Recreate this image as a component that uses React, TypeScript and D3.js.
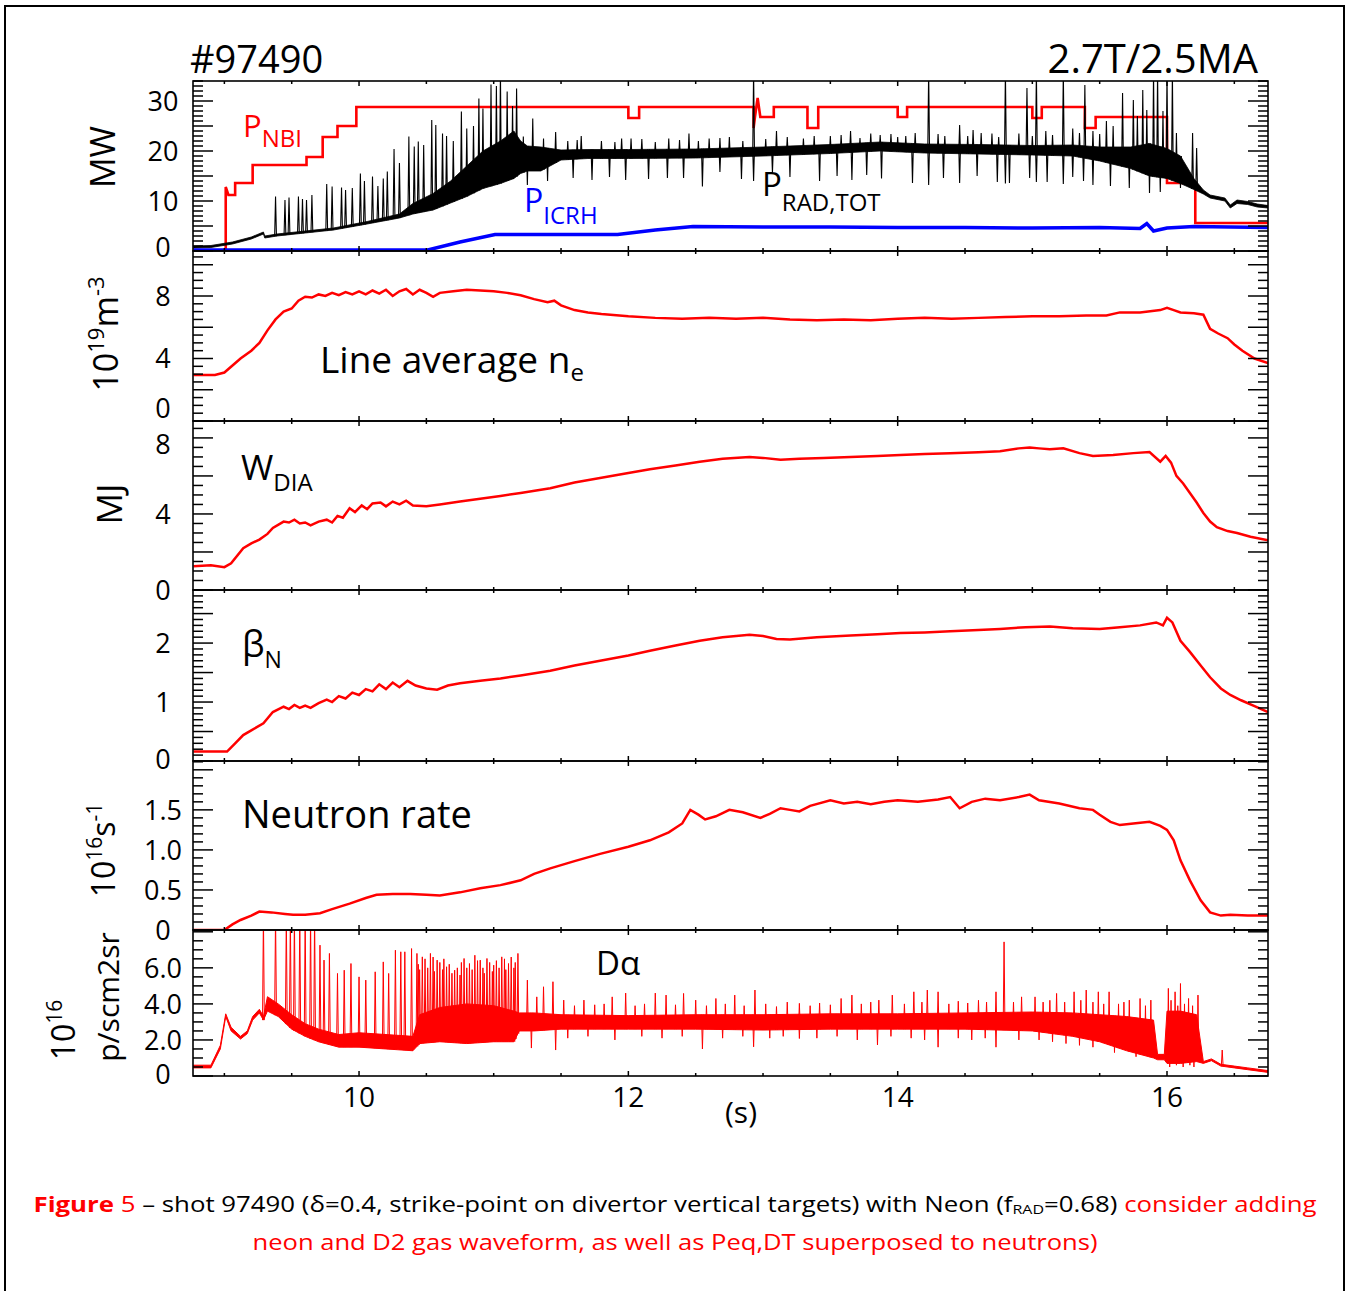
import React from 'react';
import * as d3 from 'd3';

// ---------------- DATA ----------------
const T_DOMAIN: [number, number] = [8.767, 16.75];
const xTickLabels = [10, 12, 14, 16];

// Panel 1: MW
const pnbi: [number, number][] = [
  [8.77, 0], [9.01, 0], [9.01, 12.8], [9.03, 11.2], [9.08, 11.2], [9.08, 13.6], [9.21, 13.6], [9.21, 17.2],
  [9.61, 17.2], [9.61, 18.8], [9.73, 18.8], [9.73, 22.8], [9.84, 22.8], [9.84, 25], [9.98, 25], [9.98, 28.8],
  [12.0, 28.8], [12.0, 26.6], [12.08, 26.6], [12.08, 28.8], [12.93, 28.8], [12.93, 24.6], [12.94, 26.8],
  [12.96, 30.6], [12.98, 26.8], [13.08, 26.8], [13.08, 28.8], [13.33, 28.8], [13.33, 24.6], [13.41, 24.6],
  [13.41, 28.8], [14.0, 28.8], [14.0, 26.8], [14.07, 26.8], [14.07, 28.8], [15.0, 28.8], [15.0, 26.6],
  [15.07, 26.6], [15.07, 28.8], [15.39, 28.8], [15.39, 24.6], [15.47, 24.6], [15.47, 26.8], [16.0, 26.8],
  [16.0, 13.6], [16.21, 13.6], [16.21, 5.6], [16.75, 5.6],
];
const picrh: [number, number][] = [
  [8.77, 0.2], [10.51, 0.2], [10.75, 1.8], [11.01, 3.3], [11.5, 3.3], [11.92, 3.3], [12.2, 4.2], [12.48, 4.9],
  [13.0, 4.8], [13.5, 4.8], [14.0, 4.7], [14.5, 4.7], [15.0, 4.6], [15.5, 4.7], [15.8, 4.5], [15.85, 5.5],
  [15.9, 4.0], [16.0, 4.6], [16.2, 4.9], [16.75, 4.7],
];
// P_RAD,TOT envelope [t, low, high]
const pradEnv: [number, number, number][] = [
  [8.77, 0.6, 1.0], [8.9, 0.7, 1.1], [9.06, 1.4, 1.8], [9.2, 2.4, 2.8], [9.29, 3.4, 3.8], [9.3, 2.6, 3.0],
  [9.39, 3.0, 3.4], [9.6, 3.6, 4.0], [9.81, 4.2, 4.6], [10.06, 5.4, 5.9], [10.3, 6.6, 7.4], [10.4, 7.4, 9.5],
  [10.55, 8.2, 11.5], [10.68, 9.6, 14], [10.8, 10.9, 17], [10.92, 12.5, 20], [11.05, 13.5, 22], [11.15, 14.5, 24],
  [11.2, 15.5, 22], [11.25, 16, 21], [11.35, 16, 20.8], [11.5, 18.2, 20.2], [11.7, 18.5, 20.3], [12.0, 18.5, 20.3],
  [12.5, 18.6, 20.4], [13.0, 19.0, 20.8], [13.5, 19.5, 21.3], [13.87, 20.0, 21.8], [14.2, 19.6, 21.4],
  [14.6, 19.4, 21.3], [15.0, 19.2, 21.1], [15.3, 19.0, 21.2], [15.5, 18.0, 20.8], [15.73, 16.5, 20.8],
  [15.87, 15.0, 21.5], [16.0, 14.5, 20.5], [16.1, 13.5, 19], [16.2, 12.3, 14.5], [16.27, 11.4, 12.2],
  [16.32, 10.6, 11.2], [16.43, 10, 10.6], [16.47, 8.6, 9.2], [16.52, 9.5, 10.2], [16.6, 9.3, 9.9],
  [16.67, 8.8, 9.4], [16.75, 8.6, 9.1],
];
const pradUp: [number, number][] = [
  [9.38, 10.9], [9.45, 10.2], [9.48, 10.7], [9.55, 10.9], [9.58, 10.4], [9.61, 10.2], [9.65, 11.2],
  [9.76, 13.4], [9.8, 12.9], [9.87, 12.7], [9.9, 12.2], [9.95, 12.6], [10.01, 15.5], [10.04, 14.0],
  [10.1, 14.9], [10.14, 13.0], [10.18, 14.5], [10.21, 15.9], [10.26, 20.4], [10.3, 17.6], [10.37, 22.9],
  [10.41, 20.9], [10.44, 21.9], [10.48, 21.2], [10.54, 26.2], [10.57, 25.2], [10.62, 23.5], [10.65, 23.0],
  [10.7, 22.0], [10.76, 27.9], [10.8, 24.5], [10.85, 25], [10.89, 30.5], [10.92, 28.5], [10.98, 33.3],
  [11.02, 33], [11.05, 36], [11.1, 31.9], [11.14, 29], [11.17, 32.5], [11.22, 22.9], [11.29, 26.5],
  [11.37, 22.5], [11.46, 23.8], [11.55, 22], [11.62, 22.2], [11.65, 23], [11.8, 22], [11.9, 21.8],
  [11.95, 22.5], [12.02, 22.5], [12.1, 22.4], [12.2, 21.8], [12.3, 22.5], [12.38, 22.2], [12.45, 23.5],
  [12.52, 22.0], [12.6, 22.5], [12.68, 22.6], [12.75, 22.8], [12.85, 22.0], [12.93, 36], [13.02, 22.4],
  [13.1, 24], [13.18, 22.8], [13.3, 22.5], [13.38, 23.0], [13.5, 23], [13.58, 23.2], [13.65, 24],
  [13.72, 22.6], [13.8, 23.5], [13.87, 23.2], [13.95, 23.4], [14.0, 22.8], [14.06, 23.0], [14.13, 23.6],
  [14.23, 36], [14.3, 23.4], [14.35, 23], [14.46, 25.2], [14.52, 23.0], [14.56, 24.2], [14.62, 23.6],
  [14.7, 23.5], [14.75, 22.8], [14.8, 36], [14.9, 23.5], [14.96, 32.6], [15.0, 23.0], [15.03, 36],
  [15.1, 24], [15.15, 23.2], [15.23, 36], [15.3, 24.5], [15.35, 23.6], [15.39, 33.2], [15.45, 24],
  [15.5, 23.4], [15.55, 26], [15.6, 25.0], [15.67, 31.6], [15.75, 30.2], [15.78, 27.0], [15.82, 32.2],
  [15.85, 28.2], [15.9, 36], [15.93, 36], [15.97, 28], [16.0, 36], [16.04, 36], [16.07, 23.6],
  [16.19, 23.6], [16.22, 20.6],
];
const pradDown: [number, number][] = [
  [11.25, 13.2], [11.4, 14.0], [11.59, 14.6], [11.73, 14.2], [11.86, 14.8], [11.98, 14.2], [12.15, 14.4],
  [12.29, 14.6], [12.41, 14.6], [12.55, 12.9], [12.68, 15.8], [12.84, 14.4], [12.93, 14.0], [13.07, 15.6],
  [13.2, 14.8], [13.42, 14.0], [13.55, 15.0], [13.66, 14.2], [13.77, 15.2], [13.88, 14.5], [14.11, 13.6],
  [14.23, 13.2], [14.34, 14.6], [14.46, 13.6], [14.59, 15.0], [14.74, 13.8], [14.8, 13.5], [14.83, 13.6],
  [14.98, 14.6], [15.03, 13.8], [15.11, 13.8], [15.23, 13.4], [15.3, 14.8], [15.38, 14.0], [15.45, 13.2],
  [15.58, 13.0], [15.72, 12.6], [15.87, 11.6], [15.95, 11.8], [16.1, 12.6],
];

// Panel 2: line average ne (1e19 m^-3)
const neData: [number, number][] = [
  [8.77, 2.94], [8.93, 2.95], [9.0, 3.1], [9.12, 4.0], [9.2, 4.5], [9.26, 5.0], [9.32, 5.8], [9.38, 6.5],
  [9.44, 7.0], [9.5, 7.2], [9.55, 7.7], [9.6, 7.95], [9.65, 7.9], [9.7, 8.1], [9.75, 8.0], [9.8, 8.2],
  [9.85, 8.05], [9.9, 8.25], [9.95, 8.1], [10.0, 8.3], [10.05, 8.1], [10.1, 8.35], [10.15, 8.15], [10.2, 8.4],
  [10.25, 8.0], [10.3, 8.3], [10.35, 8.45], [10.4, 8.1], [10.45, 8.4], [10.5, 8.2], [10.55, 7.95], [10.6, 8.2],
  [10.7, 8.3], [10.8, 8.4], [10.9, 8.35], [11.0, 8.3], [11.1, 8.2], [11.2, 8.05], [11.3, 7.8], [11.4, 7.6],
  [11.45, 7.7], [11.5, 7.4], [11.6, 7.1], [11.7, 6.95], [11.8, 6.85], [12.0, 6.7], [12.2, 6.6], [12.4, 6.55],
  [12.6, 6.6], [12.8, 6.55], [13.0, 6.6], [13.2, 6.5], [13.4, 6.45], [13.6, 6.5], [13.8, 6.45], [14.0, 6.55],
  [14.2, 6.6], [14.4, 6.55], [14.6, 6.6], [14.8, 6.65], [15.0, 6.7], [15.2, 6.7], [15.4, 6.75], [15.55, 6.75],
  [15.65, 6.95], [15.8, 6.95], [15.95, 7.1], [16.0, 7.25], [16.05, 7.1], [16.1, 6.95], [16.2, 6.9],
  [16.27, 6.8], [16.32, 5.9], [16.38, 5.6], [16.45, 5.3], [16.5, 4.9], [16.56, 4.5], [16.65, 4.0], [16.75, 3.7],
];

// Panel 3: W_DIA (MJ)
const wdiaData: [number, number][] = [
  [8.77, 1.25], [8.9, 1.3], [9.0, 1.2], [9.05, 1.4], [9.14, 2.2], [9.2, 2.45], [9.26, 2.65], [9.32, 2.95],
  [9.36, 3.26], [9.44, 3.6], [9.48, 3.55], [9.52, 3.7], [9.56, 3.5], [9.6, 3.55], [9.64, 3.4], [9.7, 3.6],
  [9.76, 3.7], [9.8, 3.55], [9.84, 3.9], [9.88, 3.8], [9.93, 4.3], [9.97, 4.1], [10.02, 4.45], [10.06, 4.25],
  [10.1, 4.55], [10.16, 4.6], [10.2, 4.4], [10.25, 4.65], [10.3, 4.5], [10.35, 4.7], [10.4, 4.45], [10.5, 4.4],
  [10.6, 4.5], [10.75, 4.65], [10.9, 4.8], [11.05, 4.95], [11.2, 5.1], [11.42, 5.35], [11.6, 5.65], [11.8, 5.9],
  [12.0, 6.15], [12.16, 6.35], [12.35, 6.55], [12.53, 6.75], [12.7, 6.9], [12.9, 7.0], [13.0, 6.95],
  [13.13, 6.85], [13.27, 6.9], [13.45, 6.95], [13.65, 7.0], [13.85, 7.05], [14.02, 7.1], [14.2, 7.15],
  [14.39, 7.2], [14.6, 7.25], [14.76, 7.3], [14.9, 7.45], [14.98, 7.5], [15.05, 7.45], [15.13, 7.4],
  [15.23, 7.45], [15.35, 7.2], [15.45, 7.05], [15.6, 7.1], [15.75, 7.2], [15.87, 7.26], [15.95, 6.75],
  [15.99, 7.05], [16.03, 6.7], [16.07, 6.0], [16.12, 5.6], [16.17, 5.1], [16.22, 4.6], [16.27, 4.05],
  [16.32, 3.6], [16.37, 3.3], [16.45, 3.1], [16.52, 3.0], [16.62, 2.8], [16.75, 2.62],
];

// Panel 4: beta_N
const betaData: [number, number][] = [
  [8.77, 0.16], [9.02, 0.16], [9.08, 0.3], [9.14, 0.44], [9.2, 0.52], [9.29, 0.64], [9.36, 0.83], [9.44, 0.92],
  [9.48, 0.88], [9.52, 0.95], [9.56, 0.9], [9.6, 0.94], [9.64, 0.9], [9.7, 0.98], [9.76, 1.04], [9.8, 1.0],
  [9.85, 1.1], [9.9, 1.06], [9.95, 1.16], [10.0, 1.12], [10.05, 1.22], [10.1, 1.18], [10.15, 1.3], [10.2, 1.22],
  [10.25, 1.33], [10.3, 1.25], [10.36, 1.36], [10.42, 1.28], [10.5, 1.23], [10.58, 1.21], [10.66, 1.28],
  [10.75, 1.32], [10.9, 1.36], [11.05, 1.4], [11.2, 1.45], [11.42, 1.53], [11.6, 1.62], [11.79, 1.7],
  [12.0, 1.79], [12.16, 1.87], [12.35, 1.96], [12.53, 2.04], [12.7, 2.1], [12.9, 2.14], [13.0, 2.12],
  [13.1, 2.07], [13.2, 2.06], [13.4, 2.1], [13.65, 2.13], [13.85, 2.15], [14.02, 2.17], [14.2, 2.18],
  [14.39, 2.2], [14.6, 2.22], [14.76, 2.24], [14.95, 2.27], [15.13, 2.28], [15.3, 2.25], [15.5, 2.24],
  [15.65, 2.27], [15.8, 2.3], [15.92, 2.35], [15.97, 2.3], [16.0, 2.43], [16.04, 2.35], [16.1, 2.04],
  [16.17, 1.85], [16.25, 1.62], [16.32, 1.42], [16.4, 1.23], [16.47, 1.12], [16.55, 1.03], [16.65, 0.93],
  [16.75, 0.83],
];

// Panel 5: neutron rate (1e16 /s)
const neutronData: [number, number][] = [
  [8.77, 0], [9.0, 0], [9.06, 0.07], [9.12, 0.125], [9.2, 0.18], [9.26, 0.23], [9.35, 0.22], [9.45, 0.2],
  [9.51, 0.19], [9.6, 0.19], [9.71, 0.21], [9.8, 0.26], [9.93, 0.33], [10.05, 0.4], [10.13, 0.44],
  [10.25, 0.45], [10.38, 0.45], [10.5, 0.44], [10.6, 0.43], [10.75, 0.47], [10.9, 0.52], [11.05, 0.56],
  [11.2, 0.62], [11.3, 0.7], [11.42, 0.77], [11.6, 0.86], [11.79, 0.95], [12.0, 1.04], [12.16, 1.12],
  [12.3, 1.22], [12.4, 1.33], [12.46, 1.5], [12.52, 1.44], [12.57, 1.38], [12.65, 1.42], [12.75, 1.5],
  [12.85, 1.47], [12.98, 1.4], [13.05, 1.45], [13.13, 1.52], [13.2, 1.5], [13.27, 1.48], [13.35, 1.55],
  [13.5, 1.62], [13.6, 1.58], [13.7, 1.6], [13.8, 1.57], [13.9, 1.6], [14.0, 1.62], [14.15, 1.6],
  [14.3, 1.63], [14.39, 1.66], [14.46, 1.52], [14.55, 1.6], [14.65, 1.64], [14.76, 1.62], [14.9, 1.66],
  [14.98, 1.69], [15.05, 1.62], [15.2, 1.58], [15.35, 1.52], [15.45, 1.5], [15.5, 1.44], [15.58, 1.35],
  [15.65, 1.31], [15.75, 1.33], [15.87, 1.35], [15.95, 1.3], [16.0, 1.25], [16.05, 1.12], [16.1, 0.87],
  [16.17, 0.62], [16.25, 0.37], [16.32, 0.22], [16.4, 0.18], [16.47, 0.19], [16.6, 0.18], [16.75, 0.18],
];

// Panel 6: D-alpha (1e16 p/s cm2 sr)
const daEnv: [number, number, number][] = [
  [8.77, 0.45, 0.6], [8.9, 0.45, 0.6], [8.97, 1.5, 1.7], [9.01, 3.3, 3.45], [9.05, 2.5, 2.7], [9.12, 2.05, 2.2],
  [9.17, 2.35, 2.5], [9.21, 3.1, 3.3], [9.26, 3.5, 3.7], [9.29, 3.1, 3.3], [9.32, 3.6, 4.4], [9.4, 3.3, 4.0],
  [9.5, 2.6, 3.4], [9.6, 2.2, 2.9], [9.7, 1.9, 2.6], [9.85, 1.6, 2.3], [10.0, 1.6, 2.4], [10.2, 1.5, 2.3],
  [10.4, 1.4, 2.2], [10.45, 1.8, 3.4], [10.6, 1.9, 3.8], [10.8, 1.8, 4.0], [11.0, 1.9, 3.9], [11.15, 1.9, 3.6],
  [11.19, 2.5, 3.5], [11.3, 2.5, 3.5], [11.5, 2.6, 3.4], [12.0, 2.6, 3.35], [12.5, 2.6, 3.4], [13.0, 2.55, 3.4],
  [13.5, 2.6, 3.45], [14.0, 2.6, 3.45], [14.5, 2.6, 3.5], [15.0, 2.5, 3.55], [15.3, 2.2, 3.5], [15.5, 1.9, 3.4],
  [15.7, 1.4, 3.3], [15.9, 1.0, 3.1], [15.93, 0.9, 1.2], [15.98, 0.9, 1.2], [16.0, 0.7, 3.6], [16.1, 0.7, 3.6],
  [16.22, 0.8, 3.4], [16.27, 0.7, 0.8], [16.33, 0.85, 0.95], [16.4, 0.55, 0.65], [16.5, 0.45, 0.55],
  [16.6, 0.35, 0.45], [16.75, 0.2, 0.3],
];
const daUp: [number, number][] = [
  [9.29, 9], [9.38, 9], [9.46, 9], [9.49, 9], [9.52, 9], [9.56, 9], [9.6, 9], [9.64, 9], [9.67, 9],
  [9.71, 7.26], [9.74, 6.43], [9.78, 6.8], [9.84, 5.69], [9.89, 5.87], [9.94, 6.24], [10.0, 5.5],
  [10.05, 5.32], [10.12, 5.78], [10.18, 6.33], [10.22, 5.69], [10.27, 6.98], [10.31, 6.89], [10.34, 6.89],
  [10.39, 7.07], [10.43, 6.8], [10.44, 6.2], [10.45, 5.9], [10.47, 6.61], [10.49, 6.5], [10.51, 6.0],
  [10.53, 6.8], [10.55, 6.6], [10.56, 5.8], [10.58, 6.43], [10.6, 6.3], [10.62, 5.9], [10.63, 6.5],
  [10.65, 6.06], [10.67, 6.2], [10.69, 5.7], [10.71, 5.87], [10.73, 6.0], [10.75, 5.6], [10.76, 6.3],
  [10.78, 6.52], [10.8, 6.0], [10.82, 6.24], [10.84, 5.9], [10.86, 6.7], [10.88, 6.4], [10.9, 6.43],
  [10.92, 6.0], [10.93, 5.7], [10.95, 6.52], [10.97, 6.3], [10.99, 5.8], [11.0, 6.15], [11.02, 6.4],
  [11.04, 6.0], [11.06, 6.61], [11.08, 6.5], [11.09, 5.9], [11.11, 6.24], [11.13, 6.6], [11.15, 6.0],
  [11.16, 6.3], [11.18, 6.8], [11.25, 5.32], [11.32, 4.39], [11.37, 4.95], [11.44, 5.23], [11.52, 4.21],
  [11.6, 3.9], [11.67, 4.21], [11.75, 3.95], [11.82, 4.0], [11.88, 4.39], [11.98, 4.6], [12.05, 3.9],
  [12.12, 4.0], [12.2, 4.6], [12.28, 4.49], [12.35, 3.95], [12.41, 4.58], [12.5, 4.21], [12.58, 3.9],
  [12.65, 4.3], [12.72, 4.0], [12.79, 4.49], [12.86, 3.9], [12.94, 4.77], [13.02, 4.0], [13.1, 3.85],
  [13.18, 4.1], [13.27, 4.03], [13.35, 3.9], [13.42, 4.05], [13.5, 3.95], [13.58, 4.3], [13.66, 4.49],
  [13.73, 4.0], [13.8, 4.1], [13.86, 4.21], [13.96, 4.49], [14.05, 4.0], [14.12, 4.67], [14.18, 4.1],
  [14.22, 4.77], [14.3, 4.67], [14.38, 4.0], [14.45, 4.15], [14.52, 4.05], [14.6, 4.2], [14.66, 4.1],
  [14.73, 4.67], [14.79, 7.44], [14.86, 4.1], [14.92, 4.39], [15.02, 4.39], [15.08, 4.1], [15.13, 4.2],
  [15.18, 4.58], [15.24, 4.1], [15.31, 4.67], [15.36, 4.2], [15.4, 4.77], [15.45, 4.1], [15.49, 4.67],
  [15.53, 4.0], [15.57, 4.67], [15.64, 4.0], [15.68, 4.1], [15.72, 4.21], [15.8, 4.3], [15.84, 3.9],
  [15.88, 4.21], [16.01, 4.86], [16.03, 4.2], [16.06, 4.67], [16.08, 3.9], [16.1, 5.13], [16.13, 4.0],
  [16.16, 4.3], [16.19, 3.9], [16.23, 4.49], [16.41, 1.44],
];
const daDown: [number, number][] = [
  [11.28, 1.55], [11.46, 1.44], [11.55, 2.1], [11.7, 2.2], [11.9, 2.0], [12.1, 2.2], [12.25, 2.1],
  [12.4, 2.2], [12.55, 1.5], [12.7, 2.1], [12.85, 2.2], [12.93, 1.62], [13.05, 2.1], [13.15, 2.2],
  [13.27, 2.08], [13.4, 2.1], [13.55, 2.2], [13.7, 2.0], [13.85, 1.72], [13.95, 2.2], [14.1, 2.1],
  [14.2, 2.0], [14.3, 1.6], [14.45, 2.1], [14.55, 2.0], [14.65, 2.1], [14.73, 1.6], [14.9, 2.0],
  [15.05, 2.0], [15.15, 1.9], [15.25, 1.8], [15.35, 1.7], [15.45, 1.6], [15.61, 1.3], [15.77, 1.07],
  [16.02, 0.5], [16.07, 0.6], [16.12, 0.5], [16.17, 0.6], [16.2, 0.5],
];

// ---------------- LAYOUT ----------------
const X0 = 193;
const X1 = 1268;
type Panel = {
  top: number; bottom: number; max: number; minor: number; major: number;
  labels: number[]; fmt: (v: number) => string; shift: Record<string, number>;
};
const PANELS: Panel[] = [
  { top: 81, bottom: 251, max: 34, minor: 1, major: 5, labels: [0, 10, 20, 30], fmt: v => String(v), shift: { '0': -4 } },
  { top: 251, bottom: 421, max: 10.88, minor: 0.5, major: 2, labels: [0, 4, 8], fmt: v => String(v), shift: { '0': -13 } },
  { top: 421, bottom: 590, max: 8.89, minor: 0.5, major: 2, labels: [0, 4, 8], fmt: v => String(v), shift: { '8': 6 } },
  { top: 590, bottom: 761, max: 2.9, minor: 0.1, major: 0.5, labels: [0, 1, 2], fmt: v => String(v), shift: { '0': -2 } },
  { top: 761, bottom: 930, max: 2.11, minor: 0.1, major: 0.5, labels: [0, 0.5, 1.0, 1.5], fmt: v => (v === 0 ? '0' : v.toFixed(1)), shift: {} },
  { top: 930, bottom: 1076, max: 8.1, minor: 0.5, major: 2, labels: [0, 2, 4, 6], fmt: v => (v === 0 ? '0' : v.toFixed(1)), shift: { '0': -2 } },
];

const FONT = "'Open Sans', 'DejaVu Sans', sans-serif";
const RED = '#ff0000';
const BLUE = '#0000ff';

export default function App() {
  const x = d3.scaleLinear().domain(T_DOMAIN).range([X0, X1]);
  const ys = PANELS.map(p => d3.scaleLinear().domain([0, p.max]).range([p.bottom, p.top]));

  const lineFor = (y: d3.ScaleLinear<number, number>) =>
    d3.line<[number, number]>().x(d => x(d[0])).y(d => y(d[1]));
  const areaFor = (y: d3.ScaleLinear<number, number>) =>
    d3.area<[number, number, number]>().x(d => x(d[0])).y0(d => y(d[1])).y1(d => y(d[2]));

  const edgeOf = (env: [number, number, number][], k: 1 | 2) =>
    d3.scaleLinear().domain(env.map(d => d[0])).range(env.map(d => d[k])).clamp(true);

  // up spikes rise from the lower edge of the trace, down spikes drop from its upper edge
  const spikePath = (
    spikes: [number, number][], env: [number, number, number][], y: d3.ScaleLinear<number, number>, up: boolean
  ) => {
    const edge = edgeOf(env, up ? 1 : 2);
    return spikes.map(([t, v]) => {
      const xs = x(t);
      const yb = y(edge(t));
      return `M${xs - 0.9},${yb}L${xs},${y(v)}L${xs + 0.9},${yb}`;
    }).join('');
  };

  const xTicks = d3.range(0, 16).map(i => 9 + i * 0.5).filter(t => t < T_DOMAIN[1]);

  const panelFrames = PANELS.map((p, i) => {
    const y = ys[i];
    const n = Math.floor(p.max / p.minor + 1e-6);
    const yTicks = d3.range(0, n + 1).map(k => +(k * p.minor).toFixed(4));
    return (
      <g key={'frame' + i}>
        <rect x={X0} y={p.top} width={X1 - X0} height={p.bottom - p.top} fill="none" stroke="#000" strokeWidth={1.6} />
        {yTicks.map(v => {
          const r = v / p.major;
          const isMajor = Math.abs(r - Math.round(r)) < 1e-6;
          const len = isMajor ? 20 : 10;
          return (
            <g key={v}>
              <line x1={X0} x2={X0 + len} y1={y(v)} y2={y(v)} stroke="#000" strokeWidth={1.5} />
              <line x1={X1} x2={X1 - len} y1={y(v)} y2={y(v)} stroke="#000" strokeWidth={1.5} />
            </g>
          );
        })}
        {xTicks.map(t => {
          const isMajor = Math.abs(t / 2 - Math.round(t / 2)) < 1e-6;
          const len = isMajor ? 5 : 3;
          return (
            <g key={'xt' + t}>
              <line x1={x(t)} x2={x(t)} y1={p.top} y2={p.top + len} stroke="#000" strokeWidth={1.5} />
              <line x1={x(t)} x2={x(t)} y1={p.bottom} y2={p.bottom - len} stroke="#000" strokeWidth={1.5} />
            </g>
          );
        })}
        {p.labels.map(v => (
          <text key={'l' + v} x={163} y={y(v) + (p.shift[String(v)] || 0)} dy="0.36em" textAnchor="middle"
            fontSize={27} fill="#000">{p.fmt(v)}</text>
        ))}
      </g>
    );
  });

  const [y1, y2, y3, y4, y5, y6] = ys;

  return (
    <svg width={1349} height={1291} viewBox="0 0 1349 1291"
      style={{ position: 'absolute', left: 0, top: 0, background: '#fff' }} fontFamily={FONT}>
      <defs>
        {PANELS.map((p, i) => (
          <clipPath id={'clip' + i} key={i}>
            <rect x={X0} y={p.top} width={X1 - X0} height={p.bottom - p.top} />
          </clipPath>
        ))}
      </defs>
      <rect x={0} y={0} width={1349} height={1291} fill="#fff" />
      <rect x={5} y={6} width={1339} height={1300} fill="none" stroke="#000" strokeWidth={2} />

      {/* Panel 1 */}
      <g clipPath="url(#clip0)">
        <path d={lineFor(y1)(pnbi) || ''} fill="none" stroke={RED} strokeWidth={2.6} />
        <path d={areaFor(y1)(pradEnv) || ''} fill="#000" stroke="#000" strokeWidth={0.8} />
        <path d={spikePath(pradUp, pradEnv, y1, true)} fill="none" stroke="#000" strokeWidth={1.1} />
        <path d={spikePath(pradDown, pradEnv, y1, false)} fill="none" stroke="#000" strokeWidth={1.1} />
        <path d={lineFor(y1)(picrh) || ''} fill="none" stroke={BLUE} strokeWidth={3.5} />
      </g>
      {/* Panel 2 */}
      <g clipPath="url(#clip1)">
        <path d={lineFor(y2)(neData) || ''} fill="none" stroke={RED} strokeWidth={2.5} />
      </g>
      {/* Panel 3 */}
      <g clipPath="url(#clip2)">
        <path d={lineFor(y3)(wdiaData) || ''} fill="none" stroke={RED} strokeWidth={2.5} />
      </g>
      {/* Panel 4 */}
      <g clipPath="url(#clip3)">
        <path d={lineFor(y4)(betaData) || ''} fill="none" stroke={RED} strokeWidth={2.5} />
      </g>
      {/* Panel 5 */}
      <g clipPath="url(#clip4)">
        <path d={lineFor(y5)(neutronData) || ''} fill="none" stroke={RED} strokeWidth={2.5} />
      </g>
      {/* Panel 6 */}
      <g clipPath="url(#clip5)">
        <path d={areaFor(y6)(daEnv) || ''} fill={RED} stroke={RED} strokeWidth={1} />
        <path d={spikePath(daUp, daEnv, y6, true)} fill="none" stroke={RED} strokeWidth={1} />
        <path d={spikePath(daDown, daEnv, y6, false)} fill="none" stroke={RED} strokeWidth={1} />
      </g>

      {panelFrames}

      {/* x tick labels */}
      {xTickLabels.map(t => (
        <text key={'xl' + t} x={x(t)} y={1107} textAnchor="middle" fontSize={28} fill="#000">{t}</text>
      ))}
      <text x={741} y={1123} textAnchor="middle" fontSize={30} fill="#000">(s)</text>

      {/* titles */}
      <text x={190} y={73} fontSize={38} fill="#000">#97490</text>
      <text x={1258} y={73} fontSize={40} textAnchor="end" fill="#000">2.7T/2.5MA</text>

      {/* series labels */}
      <text x={243} y={137} fontSize={31} fill={RED}>P<tspan fontSize={24} dy={10}>NBI</tspan></text>
      <text x={524} y={212} fontSize={32} fill={BLUE}>P<tspan fontSize={24} dy={12}>ICRH</tspan></text>
      <text x={762} y={196} fontSize={33} fill="#000">P<tspan fontSize={24} dy={15}>RAD,TOT</tspan></text>
      <text x={320} y={373} fontSize={37} fill="#000">Line average n<tspan fontSize={24} dy={8}>e</tspan></text>
      <text x={241} y={480} fontSize={35} fill="#000">W<tspan fontSize={24} dy={11}>DIA</tspan></text>
      <text x={242} y={657} fontSize={36} fill="#000">β<tspan fontSize={23} dy={11}>N</tspan></text>
      <text x={242} y={828} fontSize={38} fill="#000">Neutron rate</text>
      <text x={596} y={975} fontSize={33} fill="#000">Dα</text>

      {/* y-axis titles */}
      <text transform="translate(115,157) rotate(-90)" textAnchor="middle" fontSize={34} fill="#000">MW</text>
      <text transform="translate(118,334) rotate(-90)" textAnchor="middle" fontSize={34} fill="#000">
        10<tspan fontSize={22} dy={-14}>19</tspan><tspan dy={14}>m</tspan><tspan fontSize={22} dy={-14}>-3</tspan>
      </text>
      <text transform="translate(122,504) rotate(-90)" textAnchor="middle" fontSize={35} fill="#000">MJ</text>
      <text transform="translate(115,850) rotate(-90)" textAnchor="middle" fontSize={32} fill="#000">
        10<tspan fontSize={21} dy={-13}>16</tspan><tspan dy={13}>s</tspan><tspan fontSize={21} dy={-13}>-1</tspan>
      </text>
      <text transform="translate(75,1030) rotate(-90)" textAnchor="middle" fontSize={32} fill="#000">
        10<tspan fontSize={21} dy={-13}>16</tspan>
      </text>
      <text transform="translate(119,997) rotate(-90)" textAnchor="middle" fontSize={30} fill="#000">p/scm2sr</text>

      {/* caption */}
      <text x={675} y={1212} textAnchor="middle" fontSize={21} fill="#000" style={{ whiteSpace: 'pre' }}
        textLength={1283} lengthAdjust="spacingAndGlyphs">
        <tspan fill={RED} fontWeight="bold">Figure</tspan>
        <tspan fill={RED}>{' 5'}</tspan>
        <tspan>{' – shot 97490 (δ=0.4, strike-point on divertor vertical targets) with Neon (f'}</tspan>
        <tspan fontSize={13} dy={2}>RAD</tspan>
        <tspan dy={-2}>{'=0.68) '}</tspan>
        <tspan fill={RED}>consider adding</tspan>
      </text>
      <text x={675} y={1250} textAnchor="middle" fontSize={21} fill={RED} textLength={845}
        lengthAdjust="spacingAndGlyphs">neon and D2 gas waveform, as well as Peq,DT superposed to neutrons)</text>
    </svg>
  );
}
